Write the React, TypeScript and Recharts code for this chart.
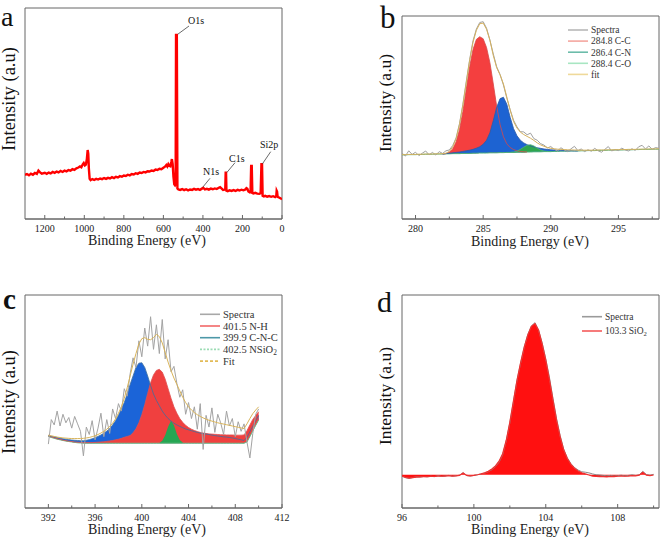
import { ComposedChart, XAxis, YAxis, Area, Line, ReferenceArea } from 'recharts';

const FRAME = '#666';
const SERIF = "'Liberation Serif', 'Times New Roman', serif";

// ---- a: survey spectrum ----
const surveyEnergy = [
  1300, 1290, 1280, 1270, 1260, 1250, 1240, 1232, 1225, 1215,
  1200, 1190, 1180, 1170, 1160, 1150, 1140, 1130, 1120, 1110,
  1100, 1090, 1080, 1070, 1060, 1050, 1040, 1030, 1022, 1015,
  1008, 1003, 997, 992, 987, 983, 980, 977, 973, 968,
  960, 950, 940, 930, 920, 910, 900, 890, 880, 870,
  860, 850, 840, 830, 820, 810, 800, 790, 780, 770,
  760, 750, 740, 730, 720, 710, 700, 690, 680, 670,
  660, 650, 640, 630, 620, 610, 600, 592, 585, 580,
  575, 570, 565, 560, 557, 553, 549, 545, 541, 538,
  536, 532, 529, 524, 515, 505, 495, 485, 475, 465,
  455, 445, 435, 425, 415, 405, 398, 390, 380, 370,
  360, 350, 340, 330, 320, 313, 305, 298, 290, 287,
  285, 283, 281, 275, 265, 255, 245, 235, 225, 215,
  205, 195, 185, 180, 175, 170, 163, 159, 156, 153,
  150, 145, 135, 125, 115, 108, 104, 101, 98, 92,
  85, 75, 65, 55, 45, 35, 29, 27, 25, 22,
  15, 8, 0,
];
const surveyCounts = [
  20.9, 21.3, 20.7, 21.5, 21.0, 21.8, 21.4, 22.9, 22.2, 21.5,
  21.9, 21.4, 22.0, 21.6, 22.3, 21.9, 22.5, 22.1, 22.8, 22.3,
  22.9, 22.6, 23.2, 22.9, 23.6, 23.3, 24.0, 24.4, 24.9, 24.5,
  25.9, 26.5, 25.4, 25.8, 28.5, 32.7, 31.0, 24.0, 19.0, 18.4,
  18.9, 18.5, 19.0, 18.7, 19.2, 18.9, 19.4, 19.0, 19.5, 19.2,
  19.8, 19.4, 20.0, 19.7, 20.3, 20.0, 20.6, 20.4, 21.0, 20.7,
  21.3, 21.1, 21.7, 21.4, 22.0, 21.8, 22.3, 22.1, 22.6, 22.5,
  23.0, 22.8, 23.4, 23.2, 23.8, 23.6, 24.3, 24.8, 25.6, 24.9,
  26.0, 25.2, 25.0, 27.0, 28.4, 26.0, 20.0, 16.5, 16.0, 16.5,
  87.2, 87.2, 14.5, 14.0, 13.8, 14.2, 13.7, 14.1, 13.6, 14.0,
  13.8, 14.3, 13.9, 14.2, 13.8, 14.4, 14.8, 14.0, 14.3, 13.9,
  14.4, 14.1, 14.5, 14.2, 14.8, 15.1, 14.4, 13.8, 13.9, 14.0,
  21.9, 21.9, 13.4, 13.2, 13.6, 13.3, 13.7, 13.3, 13.8, 13.5,
  13.9, 13.6, 14.0, 14.6, 14.3, 13.0, 12.6, 12.8, 25.1, 25.1,
  12.3, 12.1, 12.4, 12.0, 11.9, 12.2, 26.0, 26.0, 11.0, 10.7,
  11.0, 10.6, 10.9, 10.5, 10.8, 10.4, 11.0, 13.4, 13.0, 10.5,
  10.2, 9.8, 9.4,
];
const surveyMajor = [0, 200, 400, 600, 800, 1000, 1200];
const surveyMinor = [100, 300, 500, 700, 900, 1100];

// ---- b: C1s ----
const c1sEnergy = [
  279, 279.25, 279.5, 279.75, 280, 280.25, 280.5, 280.75, 281, 281.25, 281.5, 281.75,
  282, 282.25, 282.5, 282.75, 283, 283.25, 283.5, 283.75, 284, 284.25, 284.5, 284.75,
  285, 285.25, 285.5, 285.75, 286, 286.25, 286.5, 286.75, 287, 287.25, 287.5, 287.75,
  288, 288.25, 288.5, 288.75, 289, 289.25, 289.5, 289.75, 290, 290.25, 290.5, 290.75,
  291, 291.25, 291.5, 291.75, 292, 292.25, 292.5, 292.75, 293, 293.25, 293.5, 293.75,
  294, 294.25, 294.5, 294.75, 295, 295.25, 295.5, 295.75, 296, 296.25, 296.5, 296.75,
  297, 297.25, 297.5, 297.75, 298,
];
const c1sSpectra = [
  32.5, 31.0, 33.6, 31.8, 32.9, 31.2, 32.4, 33.5, 31.6, 32.8, 31.5, 33.2,
  32.3, 33.6, 34.0, 36.2, 40.0, 47.0, 56.5, 67.8, 78.5, 87.8, 93.6, 96.8,
  97.2, 94.0, 88.2, 81.3, 75.0, 71.2, 66.0, 59.5, 53.8, 48.6, 45.4, 43.0,
  42.9, 41.5, 42.3, 39.6, 38.8, 37.1, 36.4, 35.0, 35.7, 34.3, 33.5, 35.1,
  34.0, 33.2, 34.6, 35.8, 33.7, 34.5, 33.2, 34.1, 33.4, 34.8, 33.6, 32.9,
  34.3, 35.7, 33.5, 34.2, 33.7, 34.9, 34.0, 33.5, 34.6, 33.8, 35.6, 36.3,
  34.5, 36.0, 34.3, 35.2, 34.8,
];
const c1sBackground = [
  31.6, 31.6, 31.7, 31.7, 31.7, 31.8, 31.8, 31.9, 31.9, 31.9, 32.0, 32.0,
  32.0, 32.1, 32.1, 32.2, 32.2, 32.2, 32.3, 32.3, 32.3, 32.4, 32.4, 32.5,
  32.5, 32.5, 32.6, 32.6, 32.6, 32.7, 32.7, 32.8, 32.8, 32.8, 32.9, 32.9,
  32.9, 33.0, 33.0, 33.1, 33.1, 33.1, 33.2, 33.2, 33.2, 33.3, 33.3, 33.4,
  33.4, 33.4, 33.5, 33.5, 33.5, 33.6, 33.6, 33.7, 33.7, 33.7, 33.8, 33.8,
  33.8, 33.9, 33.9, 34.0, 34.0, 34.0, 34.1, 34.1, 34.1, 34.2, 34.2, 34.3,
  34.3, 34.3, 34.4, 34.4, 34.4,
];
const c1sFit = [
  31.7, 31.7, 31.8, 31.8, 31.8, 31.9, 31.9, 32.0, 32.0, 32.0, 32.1, 32.1,
  32.2, 32.4, 33.3, 35.5, 39.5, 46.5, 56.0, 67.0, 78.0, 87.0, 93.0, 96.2,
  96.5, 93.5, 88.0, 80.5, 74.5, 71.0, 66.5, 60.0, 53.5, 48.0, 44.8, 42.8,
  41.6, 40.7, 39.8, 38.7, 37.5, 36.5, 35.8, 35.2, 34.8, 34.6, 34.4, 34.3,
  34.2, 34.1, 34.0, 34.0, 33.9, 33.9, 33.9, 33.9, 33.9, 33.9, 34.0, 34.0,
  34.0, 34.1, 34.1, 34.1, 34.2, 34.2, 34.2, 34.3, 34.3, 34.3, 34.4, 34.4,
  34.4, 34.5, 34.5, 34.5, 34.6,
];
const c1sCCFrom = 282;
const c1sCC = [
  32.0, 32.2, 33.0, 34.5, 38.0, 44.0, 53.0, 64.0, 75.0, 83.5, 88.5, 89.8,
  88.8, 84.5, 77.0, 66.5, 55.5, 46.5, 40.5, 37.0, 35.2, 34.2, 33.6, 33.3,
  33.1, 33.0,
];
const c1sCNFrom = 282;
const c1sCN = [
  32.0, 32.2, 32.4, 32.6, 32.8, 33.0, 33.3, 33.6, 33.9, 34.3, 34.9, 35.6,
  36.8, 38.8, 42.5, 48.5, 55.0, 59.3, 60.0, 56.5, 50.0, 44.5, 41.0, 38.8,
  37.5, 36.6, 36.0, 35.5, 35.1, 34.8, 34.5, 34.3, 34.1, 34.0, 33.9, 33.8,
  33.7, 33.6, 33.6, 33.5, 33.5,
];
const c1sCOFrom = 287;
const c1sCO = [32.8, 33.0, 33.4, 34.3, 35.4, 36.3, 36.6, 36.0, 34.9, 34.0, 33.5, 33.3, 33.2];
const c1sMajor = [280, 285, 290, 295];
const c1sMinor = [282.5, 287.5, 292.5, 297.5];

// ---- c: N1s ----
const n1sEnergy = [
  392, 392.25, 392.5, 392.75, 393, 393.25, 393.5, 393.75, 394, 394.25, 394.5, 394.75,
  395, 395.25, 395.5, 395.75, 396, 396.25, 396.5, 396.75, 397, 397.25, 397.5, 397.75,
  398, 398.25, 398.5, 398.75, 399, 399.25, 399.5, 399.75, 400, 400.25, 400.5, 400.75,
  401, 401.25, 401.5, 401.75, 402, 402.25, 402.5, 402.75, 403, 403.25, 403.5, 403.75,
  404, 404.25, 404.5, 404.75, 405, 405.25, 405.5, 405.75, 406, 406.25, 406.5, 406.75,
  407, 407.25, 407.5, 407.75, 408, 408.25, 408.5, 408.75, 409, 409.25, 409.5, 409.75,
  410,
];
const n1sSpectra = [
  30.0, 41.5, 39.0, 45.5, 38.5, 44.0, 40.0, 42.5, 37.5, 43.0, 39.5, 36.0,
  24.5, 38.0, 34.5, 41.0, 32.0, 37.5, 44.5, 33.5, 41.5, 35.0, 46.5, 42.0,
  49.0, 45.5, 56.0, 52.5, 63.0, 70.5, 66.0, 78.5, 71.0, 84.5, 76.0, 89.8,
  74.5, 86.0, 72.5, 88.5, 70.0, 79.0, 64.0, 66.5, 58.5, 52.0, 55.5, 44.0,
  49.5, 42.0, 47.5, 37.0, 49.0, 27.5, 43.5, 38.0, 47.0, 35.5, 44.0, 40.0,
  34.5, 45.5, 38.5, 42.0, 33.5, 40.5, 36.0, 39.5, 31.0, 23.5, 35.0, 44.0,
  46.5,
];
const n1sBackground = [
  33.6, 33.1, 32.7, 32.3, 32.0, 31.7, 31.4, 31.2, 31.0, 30.8, 30.6, 30.5,
  30.4, 30.4, 30.4, 30.4, 30.4, 30.4, 30.4, 30.4, 30.4, 30.4, 30.4, 30.4,
  30.4, 30.4, 30.4, 30.4, 30.4, 30.4, 30.4, 30.4, 30.4, 30.4, 30.4, 30.4,
  30.4, 30.4, 30.4, 30.4, 30.4, 30.4, 30.4, 30.4, 30.4, 30.4, 30.4, 30.4,
  30.4, 30.4, 30.4, 30.4, 30.4, 30.4, 30.4, 30.4, 30.4, 30.4, 30.4, 30.4,
  30.4, 30.4, 30.4, 30.4, 30.4, 30.4, 30.4, 30.4, 31.0, 33.5, 36.2, 38.8,
  41.3,
];
const n1sCNC = [
  34.0, 33.7, 33.4, 33.1, 32.8, 32.5, 32.3, 32.1, 31.9, 31.8, 31.7, 31.6,
  31.6, 31.8, 32.1, 32.5, 33.0, 33.6, 34.3, 35.1, 36.1, 37.3, 39.0, 41.0,
  43.5, 46.5, 49.5, 53.5, 58.0, 62.0, 66.0, 68.0, 68.2, 66.0, 62.0, 57.5,
  53.5, 50.5, 48.0, 45.5, 43.6, 42.0, 40.8, 39.8, 39.0, 38.3, 37.7, 37.1,
  36.7, 36.3, 35.9, 35.5, 35.2, 34.9, 34.7, 34.5, 34.2, 34.0, 33.8, 33.6,
  33.4, 33.3, 33.1, 32.9, 32.6, 32.3, 32.0, 31.7, 33.2, 35.8, 38.4, 41.0,
  43.5,
];
const n1sNH = [
  33.9, 33.4, 33.0, 32.6, 32.2, 31.9, 31.6, 31.4, 31.2, 31.0, 30.9, 30.8,
  30.7, 30.7, 30.7, 30.7, 30.8, 30.9, 31.0, 31.1, 31.3, 31.5, 31.7, 32.0,
  32.3, 32.7, 33.2, 33.6, 34.0, 35.3, 37.2, 40.0, 43.8, 48.5, 53.8, 58.8,
  62.5, 64.6, 65.1, 63.8, 60.5, 56.0, 51.5, 47.5, 44.5, 42.0, 40.2, 38.8,
  37.8, 37.0, 36.4, 35.9, 35.5, 35.2, 35.0, 34.8, 34.7, 34.6, 34.5, 34.4,
  34.4, 34.3, 34.3, 34.3, 34.2, 34.2, 34.2, 34.3, 36.3, 39.0, 41.6, 43.4,
  45.2,
];
const n1sFit = [
  34.2, 33.9, 33.6, 33.3, 33.1, 32.9, 32.8, 32.7, 32.6, 32.6, 32.6, 32.6,
  32.7, 32.9, 33.1, 33.5, 33.9, 34.5, 35.2, 36.0, 37.0, 38.3, 39.8, 41.8,
  44.5, 47.5, 51.5, 56.5, 62.0, 67.5, 72.5, 77.0, 79.5, 80.0, 79.2, 79.0,
  80.0, 81.5, 80.5, 77.5, 73.0, 68.5, 64.5, 61.0, 58.0, 55.0, 52.0, 49.5,
  47.5, 46.0, 44.8, 43.8, 43.0, 42.3, 41.7, 41.2, 40.8, 40.4, 40.0, 39.7,
  39.4, 39.1, 38.8, 38.5, 38.2, 37.9, 37.6, 37.3, 39.5, 42.0, 44.3, 46.0,
  47.5,
];
const n1sNSiFrom = 401.5;
const n1sNSi = [30.5, 31.6, 34.2, 38.2, 41.0, 38.8, 34.8, 31.9, 30.7];
const n1sMajor = [392, 396, 400, 404, 408, 412];
const n1sMinor = [394, 398, 402, 406, 410];

// ---- d: Si2p ----
const si2pEnergy = [
  96, 96.2, 96.4, 96.6, 96.8, 97, 97.2, 97.4, 97.6, 97.8,
  98, 98.2, 98.4, 98.6, 98.8, 99, 99.2, 99.4, 99.6, 99.8,
  100, 100.2, 100.4, 100.6, 100.8, 101, 101.2, 101.4, 101.6, 101.8,
  102, 102.2, 102.4, 102.6, 102.8, 103, 103.2, 103.4, 103.6, 103.8,
  104, 104.2, 104.4, 104.6, 104.8, 105, 105.2, 105.4, 105.6, 105.8,
  106, 106.2, 106.4, 106.6, 106.8, 107, 107.2, 107.4, 107.6, 107.8,
  108, 108.2, 108.4, 108.6, 108.8, 109, 109.2, 109.4, 109.6, 109.8,
  110,
];
const si2pSpectra = [
  15.0, 14.2, 13.9, 14.3, 14.6, 14.5, 14.8, 14.6, 14.9, 14.7,
  15.2, 14.8, 15.0, 15.3, 14.9, 15.1, 15.4, 16.6, 15.2, 15.0,
  15.3, 15.6, 16.0, 16.4, 17.0, 18.0, 19.4, 21.5, 25.0, 31.5,
  40.0, 50.0, 60.0, 68.0, 75.5, 81.5, 85.5, 87.0, 83.5, 77.5,
  70.0, 61.5, 51.5, 42.0, 34.0, 27.5, 23.5, 20.8, 19.0, 17.8,
  17.0, 16.8, 16.5, 16.0, 15.6, 15.5, 15.3, 15.1, 15.3, 15.0,
  15.2, 15.4, 15.1, 15.3, 15.6, 15.3, 15.6, 17.2, 15.7, 15.4,
  15.8,
];
const si2pSiO2 = [
  15.0, 14.3, 14.0, 14.3, 14.5, 14.6, 14.7, 14.7, 14.8, 14.8,
  15.0, 14.9, 15.0, 15.2, 15.0, 15.1, 15.3, 16.4, 15.3, 15.1,
  15.3, 15.6, 16.0, 16.5, 17.2, 18.3, 19.8, 22.0, 25.5, 31.8,
  40.3, 50.2, 60.0, 68.2, 75.5, 81.3, 85.3, 86.6, 83.5, 77.0,
  69.5, 60.5, 50.8, 41.3, 33.5, 27.3, 23.2, 20.5, 18.7, 17.4,
  16.5, 16.0, 15.5, 15.0, 14.8, 14.7, 14.7, 14.6, 14.8, 14.7,
  14.9, 15.0, 14.9, 15.0, 15.2, 15.1, 15.4, 16.8, 15.4, 15.2,
  15.5,
];
const si2pFillBase = 15.6;
const si2pMajor = [96, 100, 104, 108];
const si2pMinor = [98, 102, 106, 110];

// ---- legends ----
const c1sLegend = [
  { label: 'Spectra', color: '#b8b8b8' },
  { label: '284.8 C-C', color: '#f4a6a0' },
  { label: '286.4 C-N', color: '#6cbcaa' },
  { label: '288.4 C-O', color: '#a8e6c2' },
  { label: 'fit', color: '#efd99a' },
];
const n1sLegend = [
  { label: 'Spectra', color: '#a8a8a8' },
  { label: '401.5 N-H', color: '#f26868' },
  { label: '399.9 C-N-C', color: '#4d98a8' },
  { label: '402.5 NSiO', sub: '2', color: '#9bdcb4', dash: '2 1.5' },
  { label: 'Fit', color: '#e2bb58', dash: '3 2' },
];
const si2pLegend = [
  { label: 'Spectra', color: '#9a9a9a' },
  { label: '103.3 SiO', sub: '2', color: '#f45a5a' },
];

type Row = Record<string, number | null>;

function buildRows(energy: number[], full: Record<string, number[]>, partial: Record<string, [number, number[]]> = {}): Row[] {
  return energy.map((e, i) => {
    const row: Row = { e };
    Object.keys(full).forEach((k) => { row[k] = full[k][i]; });
    Object.keys(partial).forEach((k) => {
      const [from, vals] = partial[k];
      const j = i - energy.indexOf(from);
      row[k] = j >= 0 && j < vals.length ? vals[j] : null;
    });
    return row;
  });
}

const surveyRows = surveyEnergy.map((e, i) => ({ e, y: surveyCounts[i] }));
const c1sRows = buildRows(c1sEnergy, { spec: c1sSpectra, base: c1sBackground, fit: c1sFit },
  { cc: [c1sCCFrom, c1sCC], cn: [c1sCNFrom, c1sCN], co: [c1sCOFrom, c1sCO] });
const n1sRows = buildRows(n1sEnergy, { spec: n1sSpectra, base: n1sBackground, cnc: n1sCNC, nh: n1sNH, fit: n1sFit },
  { nsi: [n1sNSiFrom, n1sNSi] });
const si2pRows = buildRows(si2pEnergy, { spec: si2pSpectra, sio2: si2pSiO2 });

const band = (key: string) => (r: Row) => (r[key] == null ? null : [r.base, r[key]]);

function XTick(props: any) {
  const { x, y, payload, majors } = props;
  const major = majors.includes(payload.value);
  return (
    <g>
      <line x1={x} x2={x} y1={y} y2={y - (major ? 4 : 2.5)} stroke={FRAME} strokeWidth={1} />
      {major && (
        <text x={x} y={y + 13} textAnchor="middle" fontSize={10} fontFamily={SERIF} fill="#222">
          {payload.value}
        </text>
      )}
    </g>
  );
}

function Panel({ left, top, width, height, data, xDomain, majors, minors, reversed, children }: any) {
  const ticks = [...majors, ...minors].sort((p: number, q: number) => p - q);
  return (
    <div style={{ position: 'absolute', left: left - 10, top: top - 10 }}>
      <ComposedChart width={width + 20} height={height + 40} data={data} margin={{ top: 10, right: 10, bottom: 0, left: 10 }}>
        <XAxis dataKey="e" type="number" domain={xDomain} reversed={reversed} allowDataOverflow
          ticks={ticks} interval={0} height={30} tickSize={0} tickMargin={0} tickLine={false}
          axisLine={{ stroke: FRAME }} tick={(p: any) => <XTick {...p} majors={majors} />} />
        <YAxis type="number" domain={[0, 100]} width={0} tick={false} tickLine={false} axisLine={{ stroke: FRAME }} allowDataOverflow />
        <ReferenceArea x1={xDomain[0]} x2={xDomain[1]} y1={0} y2={100} fill="none" fillOpacity={0} stroke={FRAME} ifOverflow="visible" />
        {children}
      </ComposedChart>
    </div>
  );
}

function Legend({ x, y, step, size, items }: any) {
  return (
    <g>
      {items.map((it: any, i: number) => (
        <g key={it.label}>
          <line x1={x} x2={x + 20} y1={y + i * step} y2={y + i * step} stroke={it.color} strokeWidth={1.6} strokeDasharray={it.dash} />
          <text x={x + 23} y={y + i * step + size * 0.35} fontSize={size} fill="#333">
            {it.label}
            {it.sub && <tspan fontSize={size * 0.7} dy={2}>{it.sub}</tspan>}
          </text>
        </g>
      ))}
    </g>
  );
}

function Overlay() {
  const note = { stroke: '#444', strokeWidth: 0.8 };
  return (
    <svg width={661} height={541} style={{ position: 'absolute', left: 0, top: 0, pointerEvents: 'none' }} fontFamily={SERIF} fill="#111">
      <text x={1} y={26} fontSize={28}>a</text>
      <text x={380} y={28} fontSize={31}>b</text>
      <text x={3} y={309} fontSize={29} fontWeight="bold">c</text>
      <text x={377} y={312} fontSize={30}>d</text>

      <text transform="translate(15,99) rotate(-90)" textAnchor="middle" fontSize={18.5}>Intensity (a.u)</text>
      <text transform="translate(391,103) rotate(-90)" textAnchor="middle" fontSize={17.5}>Intensity (a.u)</text>
      <text transform="translate(15,402) rotate(-90)" textAnchor="middle" fontSize={18.5}>Intensity (a.u)</text>
      <text transform="translate(391,396) rotate(-90)" textAnchor="middle" fontSize={17.5}>Intensity (a.u)</text>

      <text x={147} y={245} textAnchor="middle" fontSize={14} fill="#222">Binding Energy (eV)</text>
      <text x={530} y={246} textAnchor="middle" fontSize={14} fill="#222">Binding Energy (eV)</text>
      <text x={147} y={534} textAnchor="middle" fontSize={14} fill="#222">Binding Energy (eV)</text>
      <text x={530} y={534} textAnchor="middle" fontSize={14} fill="#222">Binding Energy (eV)</text>

      <line x1={177.7} y1={34.3} x2={189} y2={26} {...note} />
      <text x={188} y={24} fontSize={10}>O1s</text>
      <line x1={202.7} y1={187.3} x2={210} y2={178.3} {...note} />
      <text x={203} y={175} fontSize={10}>N1s</text>
      <line x1={226.7} y1={172.7} x2={235} y2={162.7} {...note} />
      <text x={229} y={162} fontSize={10}>C1s</text>
      <line x1={262.3} y1={164} x2={270.7} y2={151.7} {...note} />
      <text x={260} y={148} fontSize={10}>Si2p</text>

      <Legend x={568} y={30} step={11.1} size={9.5} items={c1sLegend} />
      <Legend x={200} y={314.3} step={11.7} size={10.5} items={n1sLegend} />
      <Legend x={582} y={316.7} step={14.3} size={9.5} items={si2pLegend} />
    </svg>
  );
}

export default function App() {
  return (
    <div style={{ position: 'absolute', left: 0, top: 0, width: 661, height: 541, background: '#fff' }}>
      <Panel left={25} top={8} width={257} height={211} data={surveyRows} xDomain={[0, 1300]} reversed
        majors={surveyMajor} minors={surveyMinor}>
        <Line dataKey="y" type="linear" stroke="#ff0000" strokeWidth={2.4} dot={false} isAnimationActive={false} />
      </Panel>

      <Panel left={402} top={16} width={257} height={203} data={c1sRows} xDomain={[279, 298]}
        majors={c1sMajor} minors={c1sMinor}>
        <Area dataKey={band('cc')} type="linear" fill="#f43f3f" fillOpacity={1} stroke="none" isAnimationActive={false} />
        <Area dataKey={band('cn')} type="linear" fill="#1d63d2" fillOpacity={1} stroke="none" isAnimationActive={false} />
        <Area dataKey={band('co')} type="linear" fill="#2ea64e" fillOpacity={1} stroke="none" isAnimationActive={false} />
        <Line dataKey="base" type="linear" stroke="#4caf7a" strokeWidth={1} dot={false} isAnimationActive={false} />
        <Line dataKey="cc" type="linear" stroke="#d84848" strokeWidth={0.8} dot={false} isAnimationActive={false} />
        <Line dataKey="cn" type="linear" stroke="#2a5aa8" strokeWidth={0.8} dot={false} isAnimationActive={false} />
        <Line dataKey="co" type="linear" stroke="#4fb479" strokeWidth={0.8} dot={false} isAnimationActive={false} />
        <Line dataKey="spec" type="linear" stroke="#a0a0a0" strokeWidth={1} dot={false} isAnimationActive={false} />
        <Line dataKey="fit" type="linear" stroke="#d6b25e" strokeWidth={1} dot={false} isAnimationActive={false} />
      </Panel>

      <Panel left={25} top={295} width={257} height={213} data={n1sRows} xDomain={[390, 412]}
        majors={n1sMajor} minors={n1sMinor}>
        <Area dataKey={band('cnc')} type="linear" fill="#1b64d8" fillOpacity={1} stroke="none" isAnimationActive={false} />
        <Area dataKey={band('nh')} type="linear" fill="#f0403f" fillOpacity={1} stroke="none" isAnimationActive={false} />
        <Area dataKey={band('nsi')} type="linear" fill="#26a653" fillOpacity={1} stroke="none" isAnimationActive={false} />
        <Line dataKey="base" type="linear" stroke="#6cc08a" strokeWidth={1} dot={false} isAnimationActive={false} />
        <Line dataKey="nh" type="linear" stroke="#e05050" strokeWidth={0.8} dot={false} isAnimationActive={false} />
        <Line dataKey="cnc" type="linear" stroke="#3d6e9e" strokeWidth={0.8} dot={false} isAnimationActive={false} />
        <Line dataKey="spec" type="linear" stroke="#a3a3a3" strokeWidth={1} dot={false} isAnimationActive={false} />
        <Line dataKey="fit" type="linear" stroke="#d9b45a" strokeWidth={1} dot={false} isAnimationActive={false} />
      </Panel>

      <Panel left={402} top={295} width={257} height={213} data={si2pRows} xDomain={[96, 110.3]}
        majors={si2pMajor} minors={si2pMinor}>
        <Area dataKey="sio2" type="linear" baseValue={si2pFillBase} fill="#ff1010" fillOpacity={1} stroke="none" isAnimationActive={false} />
        <Line dataKey="spec" type="linear" stroke="#8a8a8a" strokeWidth={1} dot={false} isAnimationActive={false} />
        <Line dataKey="sio2" type="linear" stroke="#f03030" strokeWidth={1.2} dot={false} isAnimationActive={false} />
      </Panel>

      <Overlay />
    </div>
  );
}
